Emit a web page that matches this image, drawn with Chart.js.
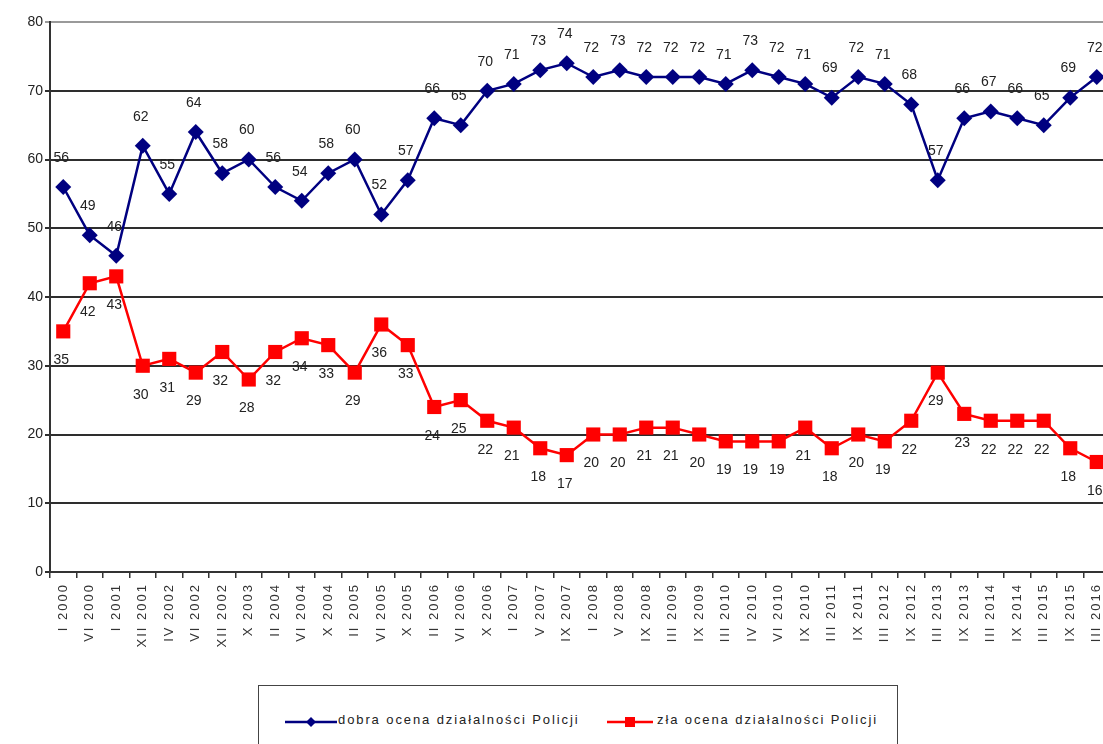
<!DOCTYPE html>
<html>
<head>
<meta charset="utf-8">
<script src="https://cdn.jsdelivr.net/npm/chart.js@4"></script>
<style>
  body { margin: 0; background: #fff; overflow: hidden; width: 1103px; height: 744px; }
  #wrap { position: absolute; left: 0; top: 0; }
  #legend {
    position: absolute; left: 258px; top: 685px; width: 638px; height: 80px;
    border: 1.5px solid #444; background: #fff;
    font-family: Arial, "Liberation Sans", sans-serif; font-size: 13px; color: #222;
    letter-spacing: 1.9px;
  }
  #legend .item { position: absolute; top: 26px; white-space: nowrap; }
  #legend svg { position: absolute; top: 29px; }
</style>
</head>
<body>
<div id="wrap"><canvas id="chart" width="1120" height="680"></canvas></div>
<div id="legend">
  <svg style="left:26px" width="52" height="14">
    <line x1="0" y1="7" x2="52" y2="7" stroke="#000080" stroke-width="2.5"/>
    <polygon points="26,2 31,7 26,12 21,7" fill="#000080"/>
  </svg>
  <span class="item" style="left:79px">dobra ocena działalności Policji</span>
  <svg style="left:348px" width="46" height="14">
    <line x1="0" y1="7" x2="46" y2="7" stroke="#ff0000" stroke-width="2.5"/>
    <rect x="18" y="2" width="10" height="10" fill="#ff0000"/>
  </svg>
  <span class="item" style="left:398px">zła ocena działalności Policji</span>
</div>
<script>
// survey dates (x axis)
const labels = [
    'I 2000', 'VI 2000', 'I 2001', 'XII 2001', 'IV 2002', 'VI 2002', 'XII 2002', 'X 2003',
    'II 2004', 'VI 2004', 'X 2004', 'II 2005', 'VI 2005', 'X 2005', 'II 2006', 'VI 2006',
    'X 2006', 'I 2007', 'V 2007', 'IX 2007', 'I 2008', 'V 2008', 'IX 2008', 'III 2009',
    'IX 2009', 'III 2010', 'IV 2010', 'VI 2010', 'IX 2010', 'III 2011', 'IX 2011', 'III 2012',
    'IX 2012', 'III 2013', 'IX 2013', 'III 2014', 'IX 2014', 'III 2015', 'IX 2015', 'III 2016'
];

// good opinion of police work
const goodValues = [
    56, 49, 46, 62, 55, 64, 58, 60, 56, 54, 58, 60, 52, 57, 66, 65, 70, 71, 73, 74,
    72, 73, 72, 72, 72, 71, 73, 72, 71, 69, 72, 71, 68, 57, 66, 67, 66, 65, 69, 72
];

// bad opinion of police work
const badValues = [
    35, 42, 43, 30, 31, 29, 32, 28, 32, 34, 33, 29, 36, 33, 24, 25, 22, 21, 18, 17,
    20, 20, 21, 21, 20, 19, 19, 19, 21, 18, 20, 19, 22, 29, 23, 22, 22, 22, 18, 16
];

// y axis ticks
const yTicks = [0, 10, 20, 30, 40, 50, 60, 70, 80];

const FONT = 'Arial, "Liberation Sans", sans-serif';

// ── x labels in the original look stretched, widen only those ──
const axisSpacing = {
    id: 'axisSpacing',
    afterLayout(chart) {
        const xs = chart.scales.x;
        if (xs._spaced) return;
        const orig = xs.drawLabels.bind(xs);
        xs.drawLabels = function(area) {
            this.ctx.letterSpacing = '2px';
            orig(area);
            this.ctx.letterSpacing = '0px';
        };
        xs._spaced = true;
    }
};

// ── value labels above (good) / below (bad) each point ──
const valueLabels = {
    id: 'valueLabels',
    afterDatasetsDraw(chart) {
        const ctx = chart.ctx;
        ctx.save();
        ctx.letterSpacing = '0px';
        ctx.font = '14px ' + FONT;
        ctx.fillStyle = '#222';
        ctx.textAlign = 'center';
        ctx.textBaseline = 'middle';
        chart.data.datasets.forEach((ds, i) => {
            const meta = chart.getDatasetMeta(i);
            const dy = i === 0 ? -29 : 29;
            meta.data.forEach((pt, j) => {
                ctx.fillText(String(ds.data[j]), pt.x - 2, pt.y + dy);
            });
        });
        ctx.restore();
    }
};

new Chart(document.getElementById('chart'), {
    type: 'line',
    data: {
        labels: labels,
        datasets: [{
            label: 'dobra ocena działalności Policji',
            data: goodValues,
            borderColor: '#000080',
            backgroundColor: '#000080',
            borderWidth: 2.5,
            pointStyle: 'rectRot',
            pointRadius: 8,
            pointBorderWidth: 0,
            tension: 0
        }, {
            label: 'zła ocena działalności Policji',
            data: badValues,
            borderColor: '#ff0000',
            backgroundColor: '#ff0000',
            borderWidth: 2.5,
            pointStyle: 'rect',
            pointRadius: 10,
            pointBorderWidth: 0,
            tension: 0
        }]
    },
    options: {
        responsive: false,
        animation: false,
        layout: { padding: { top: 22, left: 0, right: 0, bottom: 0 } },
        plugins: {
            legend: { display: false },
            tooltip: { enabled: false }
        },
        scales: {
            x: {
                offset: true,
                grid: {
                    offset: true,
                    drawOnChartArea: false,
                    drawTicks: true,
                    tickLength: 6,
                    color: '#333',
                    lineWidth: 1.5
                },
                border: { color: '#333', width: 2 },
                ticks: {
                    autoSkip: false,
                    minRotation: 90,
                    maxRotation: 90,
                    padding: 5,
                    color: '#333',
                    font: { family: FONT, size: 13 }
                },
                afterFit(scale) { scale.height = 108; }
            },
            y: {
                min: yTicks[0],
                max: yTicks[yTicks.length - 1],
                afterBuildTicks(scale) { scale.ticks = yTicks.map(v => ({ value: v })); },
                grid: {
                    color: ctx => ctx.tick && ctx.tick.value === 80 ? '#9a9a9a' : '#2e2e2e',
                    lineWidth: 2,
                    drawTicks: true,
                    tickLength: 5
                },
                border: { color: '#333', width: 2 },
                ticks: {
                    padding: 2,
                    color: '#222',
                    font: { family: FONT, size: 14 }
                },
                afterFit(scale) { scale.width = 50; }
            }
        }
    },
    plugins: [axisSpacing, valueLabels]
});
</script>
</body>
</html>
